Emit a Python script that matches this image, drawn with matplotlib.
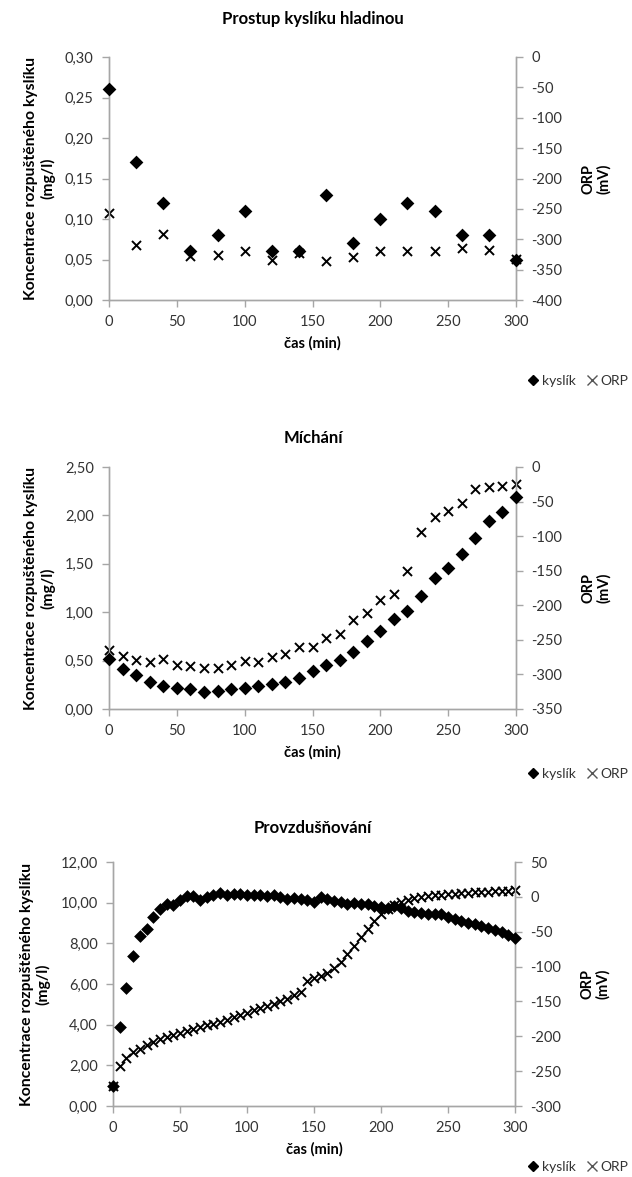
import matplotlib
matplotlib.use("Agg")
import matplotlib.pyplot as plt
from matplotlib.ticker import FuncFormatter
from matplotlib.lines import Line2D
import numpy as np

plt.rcParams['font.family'] = ['Lato', 'DejaVu Sans']
plt.rcParams['axes.unicode_minus'] = False

# ---------------- data ----------------
t1 = [0, 20, 40, 60, 80, 100, 120, 140, 160, 180, 200, 220, 240, 260, 280, 300]
o2_1 = [0.26, 0.17, 0.12, 0.06, 0.08, 0.11, 0.06, 0.06, 0.13, 0.07, 0.10, 0.12, 0.11, 0.08, 0.08, 0.05]
orp_1 = [-256, -310, -292, -327, -326, -320, -334, -322, -336, -329, -319, -319, -320, -315, -318, -333]

t2 = list(range(0, 301, 10))
o2_2 = [0.52, 0.41, 0.35, 0.28, 0.24, 0.22, 0.21, 0.18, 0.19, 0.21, 0.22, 0.24, 0.26, 0.28,
        0.32, 0.39, 0.45, 0.51, 0.59, 0.70, 0.81, 0.93, 1.01, 1.17, 1.35, 1.46, 1.60, 1.77,
        1.94, 2.04, 2.19]
orp_2 = [-264, -274, -279, -282, -277, -287, -288, -290, -291, -287, -281, -282, -275, -271,
         -260, -261, -248, -241, -222, -211, -192, -183, -150, -94, -73, -64, -52, -32, -29,
         -28, -25]

t3 = list(range(0, 301, 5))
o2_3 = [1.0, 3.9, 5.8, 7.4, 8.35, 8.7, 9.3, 9.7, 9.95, 9.87, 10.15, 10.35, 10.35, 10.15, 10.28,
        10.4, 10.5, 10.4, 10.45, 10.42, 10.4, 10.38, 10.38, 10.35, 10.4, 10.3, 10.2, 10.25,
        10.2, 10.15, 10.05, 10.3, 10.2, 10.1, 10.05, 9.95, 10.0, 9.95, 9.95, 9.85, 9.8, 9.75,
        9.85, 9.75, 9.6, 9.55, 9.5, 9.45, 9.45, 9.45, 9.3, 9.2, 9.1, 9.0, 8.95, 8.85, 8.75,
        8.65, 8.55, 8.4, 8.25]
orp_3 = [-271, -242, -231, -223, -218, -212, -208, -204, -201, -198, -195, -192, -189, -186,
         -184, -182, -179, -176, -172, -169, -166, -162, -159, -156, -153, -150, -146, -141,
         -137, -120, -116, -113, -109, -102, -94, -82, -70, -58, -46, -34, -24, -18, -12, -7,
         -4, -2, 0, 1, 2, 3, 4, 4.5, 5, 6, 6.5, 7, 7.5, 8, 8.5, 9, 9.4]

titles = ["Prostup kyslíku hladinou", "Míchání", "Provzdušňování"]
xlabel = "čas (min)"
ylabel = "Koncentrace rozpuštěného kyslíku\n(mg/l)"
ylabel2 = "ORP\n(mV)"
legend_labels = ["kyslík", "ORP"]

# ---------------- layout ----------------
W, H = 632, 1177
fig = plt.figure(figsize=(W / 100, H / 100), dpi=100)

def fr(l, r, t, b):
    return [l / W, 1 - b / H, (r - l) / W, (b - t) / H]

specs = [
    dict(pos=fr(109, 516, 57, 300), t=t1, o=o2_1, r=orp_1, ylim=(0, 0.30), yt=np.arange(0, 0.301, 0.05),
         rlim=(-400, 0), rt=np.arange(-400, 1, 50), ms=7, xs=6.5, title_y=19, leg_y=381),
    dict(pos=fr(109, 516, 467, 709), t=t2, o=o2_2, r=orp_2, ylim=(0, 2.5), yt=np.arange(0, 2.51, 0.5),
         rlim=(-350, 0), rt=np.arange(-350, 1, 50), ms=7, xs=6.5, title_y=438, leg_y=774),
    dict(pos=fr(113, 515, 862, 1106), t=t3, o=o2_3, r=orp_3, ylim=(0, 12), yt=np.arange(0, 12.01, 2),
         rlim=(-300, 50), rt=np.arange(-300, 51, 50), ms=6.5, xs=6.5, title_y=828, leg_y=1167),
]

grey = "#a6a6a6"
txt = "#333333"

for i, s in enumerate(specs):
    ax = fig.add_axes(s['pos'])
    ax2 = ax.twinx()
    ax.set_zorder(ax2.get_zorder() + 1)
    ax.patch.set_visible(False)

    ax.scatter(s['t'], s['o'], marker='D', s=s['ms'] ** 2, color='black', zorder=3, clip_on=False,
               linewidths=0)
    ax2.scatter(s['t'], s['r'], marker='x', s=s['xs'] ** 2, color='black', linewidths=1.4,
                zorder=3, clip_on=False)

    ax.set_xlim(0, 300)
    ax.set_ylim(*s['ylim'])
    ax2.set_ylim(*s['rlim'])
    ax.set_xticks(range(0, 301, 50))
    ax.set_yticks(s['yt'])
    ax2.set_yticks(s['rt'])
    ax.yaxis.set_major_formatter(FuncFormatter(lambda v, p: f"{v:.2f}".replace('.', ',')))
    ax2.yaxis.set_major_formatter(FuncFormatter(lambda v, p: f"{int(round(v))}"))

    for a in (ax, ax2):
        for sp in a.spines.values():
            sp.set_color(grey)
            sp.set_linewidth(1.0)
        a.spines['top'].set_visible(False)
        a.tick_params(colors=grey, labelcolor=txt, labelsize=10.5, length=5, width=1.0, direction='out')
    ax.tick_params(axis='x', pad=6)
    ax.tick_params(axis='y', pad=6)
    ax2.tick_params(axis='y', pad=6)

    ax.set_xlabel(xlabel, fontsize=10.5, fontweight='bold', color='black', labelpad=5)
    ax.set_ylabel(ylabel, fontsize=11.3, fontweight='bold', color='black', labelpad=7,
                  linespacing=1.15)
    ax2.set_ylabel(ylabel2, fontsize=10.5, fontweight='bold', color='black', labelpad=14,
                   linespacing=1.1)

    fig.text(313 / W, 1 - s['title_y'] / H, titles[i], ha='center', va='center',
             fontsize=12, fontweight='bold', color='black')

    handles = [Line2D([], [], marker='D', color='black', linestyle='none', markersize=5),
               Line2D([], [], marker='x', color='#555555', linestyle='none', markersize=6.5,
                      markeredgewidth=1.0)]
    leg = ax.legend(handles, legend_labels, loc='center right', ncol=2, frameon=False,
                    bbox_to_anchor=(634 / W, 1 - s['leg_y'] / H), bbox_transform=fig.transFigure,
                    fontsize=10, handlelength=0.8, handletextpad=0.2, columnspacing=0.8,
                    borderaxespad=0)
    for t in leg.get_texts():
        t.set_color(txt)

fig.savefig("out.png", dpi=100)
